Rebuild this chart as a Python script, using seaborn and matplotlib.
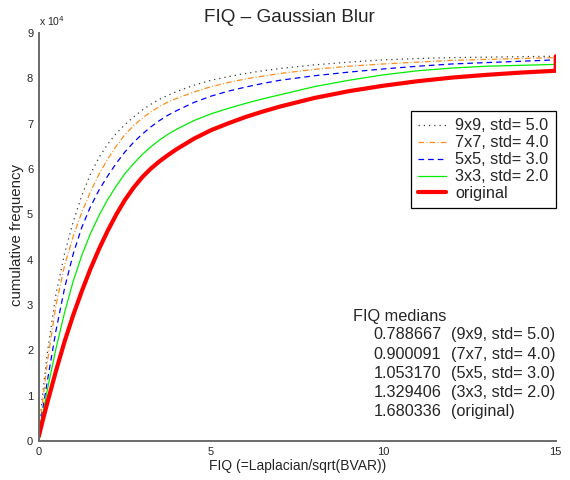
import matplotlib
matplotlib.use("Agg")
import matplotlib.pyplot as plt
import seaborn as sns
import pandas as pd

# ---- data (cumulative frequency in units of 10^4) ----
fiq = [0, 0.1, 0.25, 0.5, 0.75, 1.0, 1.25, 1.5, 1.75, 2.0, 2.25, 2.5, 2.75, 3.0, 3.25, 3.5, 3.75,
       4.0, 4.5, 5.0, 5.5, 6.0, 6.5, 7.0, 8, 9, 10, 11, 12, 13, 14, 15, 15]
blur_9x9 = [0.10, 0.95, 1.95, 3.25, 4.14, 4.84, 5.42, 5.89, 6.26, 6.55, 6.79, 6.98, 7.15, 7.30,
            7.43, 7.54, 7.63, 7.71, 7.85, 7.96, 8.04, 8.11, 8.17, 8.22, 8.30, 8.36, 8.41, 8.44,
            8.46, 8.47, 8.48, 8.49, 8.49]
blur_7x7 = [0.10, 0.80, 1.75, 3.00, 3.88, 4.52, 5.05, 5.50, 5.89, 6.22, 6.51, 6.76, 6.96, 7.12,
            7.26, 7.38, 7.48, 7.56, 7.70, 7.82, 7.91, 7.99, 8.05, 8.11, 8.20, 8.27, 8.32, 8.36,
            8.40, 8.42, 8.44, 8.46, 8.49]
blur_5x5 = [0.10, 0.62, 1.33, 2.44, 3.38, 4.13, 4.72, 5.17, 5.54, 5.85, 6.13, 6.38, 6.59, 6.77,
            6.93, 7.07, 7.19, 7.29, 7.47, 7.61, 7.72, 7.81, 7.89, 7.96, 8.06, 8.14, 8.21, 8.27,
            8.32, 8.35, 8.38, 8.41, 8.49]
blur_3x3 = [0.10, 0.52, 1.14, 2.04, 2.84, 3.53, 4.10, 4.58, 4.98, 5.33, 5.63, 5.90, 6.12, 6.32,
            6.49, 6.64, 6.77, 6.88, 7.07, 7.22, 7.34, 7.45, 7.55, 7.64, 7.82, 7.96, 8.08, 8.17,
            8.23, 8.27, 8.29, 8.31, 8.49]
original = [0.10, 0.41, 0.85, 1.55, 2.20, 2.78, 3.31, 3.80, 4.24, 4.64, 5.00, 5.32, 5.59, 5.82,
            6.01, 6.17, 6.31, 6.44, 6.67, 6.86, 7.01, 7.15, 7.27, 7.38, 7.57, 7.72, 7.84, 7.94,
            8.02, 8.08, 8.13, 8.17, 8.49]

series_labels = ["9x9, std= 5.0", "7x7, std= 4.0", "5x5, std= 3.0", "3x3, std= 2.0", "original"]
series_values = [blur_9x9, blur_7x7, blur_5x5, blur_3x3, original]
median_values = ["0.788667", "0.900091", "1.053170", "1.329406", "1.680336"]
median_names = ["(9x9, std= 5.0)", "(7x7, std= 4.0)", "(5x5, std= 3.0)", "(3x3, std= 2.0)", "(original)"]
x_ticks = [0, 5, 10, 15]
y_ticks = [0, 1, 2, 3, 4, 5, 6, 7, 8, 9]

# ---- styles ----
colors = ["#3a3a3a", "#ff8c1a", "#0000ff", "#00ee00", "#ff0000"]
styles = [(0, (1, 3.2)), (0, (4.5, 1.8, 0.8, 1.8)), (0, (4.5, 3.2)), "-", "-"]
widths = [0.9, 0.9, 0.9, 0.9, 3.0]

sns.set_theme(style="white")
plt.rcParams["font.family"] = ["Liberation Sans", "DejaVu Sans"]

fig = plt.figure(figsize=(5.7, 4.8), dpi=100)
ax = fig.add_axes([0.068, 0.081, 0.907, 0.85])

for lab, vals, c, ls, lw in zip(series_labels, series_values, colors, styles, widths):
    df = pd.DataFrame({"x": fiq, "y": vals})
    sns.lineplot(data=df, x="x", y="y", ax=ax, color=c, linestyle=ls, linewidth=lw,
                 label=lab, sort=False, estimator=None)

ax.set_xlim(0, 15)
ax.set_ylim(0, 9)
ax.set_xticks(x_ticks)
ax.set_yticks(y_ticks)
ax.set_xticklabels([str(t) for t in x_ticks], fontsize=8)
ax.set_yticklabels([str(t) for t in y_ticks], fontsize=8)
ax.tick_params(direction="in", length=3.5, width=1, color="#555555", pad=4)
for s in ["top", "right"]:
    ax.spines[s].set_visible(False)
for s in ["left", "bottom"]:
    ax.spines[s].set_color("#6a6a6a")
    ax.spines[s].set_linewidth(1.4)

ax.set_xlabel("FIQ (=Laplacian/sqrt(BVAR))", fontsize=10, labelpad=1.5)
ax.set_ylabel("cumulative frequency", fontsize=10.8, labelpad=2, y=0.505)
ax.set_title("FIQ \u2013 Gaussian Blur", fontsize=13.6, pad=8, x=0.485)
ax.text(0.0, 1.012, r"x 10$^4$", transform=ax.transAxes, fontsize=7.5, ha="left", va="bottom")

leg = ax.legend(loc="upper right", bbox_to_anchor=(1.0, 0.809), fontsize=11.7, frameon=True,
                fancybox=False, framealpha=1, edgecolor="black", handlelength=1.7,
                borderpad=0.45, labelspacing=0.12, handletextpad=0.55, borderaxespad=0)
leg.get_frame().set_linewidth(0.9)

ax.text(0.607, 0.2949, "FIQ medians", transform=ax.transAxes, fontsize=11.7, va="baseline")
row_y = [0.2493, 0.2017, 0.1551, 0.1086, 0.0620]
for yv, mv, mn in zip(row_y, median_values, median_names):
    ax.text(0.647, yv, mv, transform=ax.transAxes, fontsize=11.7, va="baseline")
    ax.text(0.7975, yv, mn, transform=ax.transAxes, fontsize=11.7, va="baseline")

fig.savefig("out.png", dpi=100)
